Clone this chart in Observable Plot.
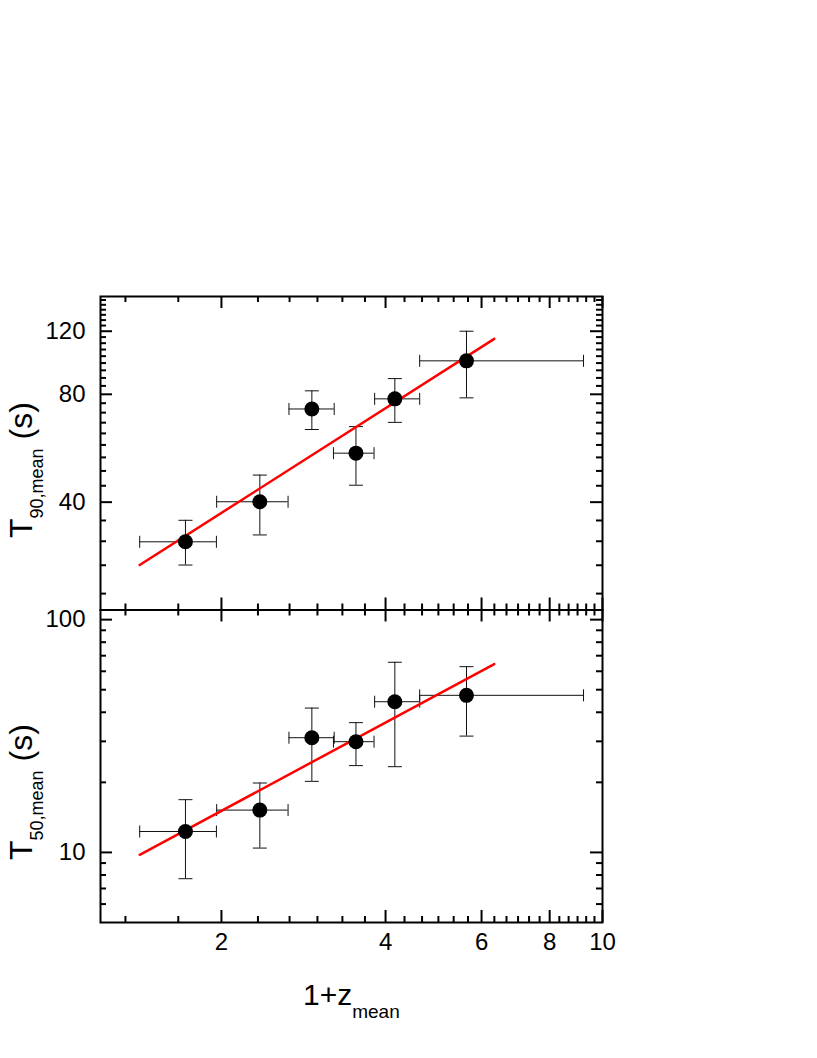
<!DOCTYPE html>
<html><head><meta charset="utf-8">
<script src="https://cdn.jsdelivr.net/npm/d3@7"></script>
<script src="https://cdn.jsdelivr.net/npm/@observablehq/plot@0.6"></script>
<style>
html,body{margin:0;padding:0;background:#fff;}
#wrap{position:relative;width:817px;height:1058px;overflow:hidden;background:#fff;}
#wrap svg{position:absolute;left:0;}
</style></head><body><div id="wrap"></div>
<script>
// ---- data ----
const z     = [1.718, 2.352, 2.93, 3.53, 4.16, 5.63];
const zLo   = [1.416, 1.96, 2.66, 3.21, 3.82, 4.62];
const zHi   = [1.958, 2.65, 3.22, 3.81, 4.62, 9.23];
const t90   = [31.0, 40.1, 72.8, 54.8, 77.7, 99.2];
const t90Lo = [26.7, 32.4, 63.8, 44.6, 66.8, 78.2];
const t90Hi = [35.6, 47.6, 81.8, 65.0, 88.5, 120];
const t50   = [12.3, 15.2, 31.1, 29.9, 44.4, 47.3];
const t50Lo = [7.71, 10.44, 20.2, 23.6, 23.35, 31.6];
const t50Hi = [16.85, 19.87, 41.7, 36.1, 65.6, 62.8];
const fitZ   = [1.416, 6.33];
const fit90  = [26.7, 114.2];
const fit50  = [9.77, 64.4];
// ticks
const xMajor = [2, 4, 6, 8, 10];
const xMinor = d3.range(4, 30).filter(k => k % 6 !== 0).map(k => k / 3);
const y90Major = [40, 80, 120];
const y90Minor = d3.range(5, 34).filter(k => k % 9 !== 0).map(k => k * 40 / 9);
const y50Major = [10, 100];
const y50Minor = [6, 7, 8, 9, 20, 30, 40, 50, 60, 70, 80, 90];

const W = 817, L = 100, R = 215;
const plotW = W - L - R;
const FONT = '"Liberation Sans", Arial, sans-serif';
const MAJ = 12, MIN = 6;
const idx = d3.range(z.length);

const hCap = {draw(ctx, size) { const r = Math.sqrt(size / Math.PI); ctx.moveTo(-r, 0); ctx.lineTo(r, 0); }};
const vCap = {draw(ctx, size) { const r = Math.sqrt(size / Math.PI); ctx.moveTo(0, -r); ctx.lineTo(0, r); }};

function panel({y, yLo, yHi, fit, domain, yMajor, yMinor, offset, height, mTop, mBottom, xLabels}) {
  const H = height - mTop - mBottom;
  const tk = {stroke: "black", strokeWidth: 2};
  const fitData = fitZ.map((v, i) => ({x: v, y: fit[i]}));
  const p = Plot.plot({
    width: W, height,
    marginLeft: L, marginRight: R, marginTop: mTop, marginBottom: mBottom,
    style: {background: "transparent", fontFamily: FONT, fontSize: "24px", color: "black"},
    x: {type: "log", domain: [1.2, 10], axis: xLabels ? "bottom" : null, ticks: xMajor,
        tickSize: 0, tickPadding: 10, tickFormat: d => String(d), label: null},
    y: {type: "log", domain, axis: "left", ticks: yMajor, tickSize: 0, tickPadding: 15,
        tickFormat: d => String(d), label: null},
    marks: [
      // inward ticks
      Plot.ruleY(yMajor, {y: d => d, insetRight: plotW - MAJ, ...tk}),
      Plot.ruleY(yMinor, {y: d => d, insetRight: plotW - MIN, ...tk}),
      Plot.ruleY(yMajor, {y: d => d, insetLeft: plotW - MAJ, ...tk}),
      Plot.ruleY(yMinor, {y: d => d, insetLeft: plotW - MIN, ...tk}),
      Plot.ruleX(xMajor, {x: d => d, insetBottom: H - MAJ, ...tk}),
      Plot.ruleX(xMinor, {x: d => d, insetBottom: H - MIN, ...tk}),
      Plot.ruleX(xMajor, {x: d => d, insetTop: H - MAJ, ...tk}),
      Plot.ruleX(xMinor, {x: d => d, insetTop: H - MIN, ...tk}),
      // error bars
      Plot.ruleX(idx, {x: i => z[i], y1: i => yLo[i], y2: i => yHi[i], stroke: "#111", strokeWidth: 1}),
      Plot.ruleY(idx, {y: i => y[i], x1: i => zLo[i], x2: i => zHi[i], stroke: "#111", strokeWidth: 1}),
      Plot.dot(idx, {x: i => z[i], y: i => yLo[i], symbol: hCap, r: 7, fill: "none", stroke: "#111", strokeWidth: 1}),
      Plot.dot(idx, {x: i => z[i], y: i => yHi[i], symbol: hCap, r: 7, fill: "none", stroke: "#111", strokeWidth: 1}),
      Plot.dot(idx, {x: i => zLo[i], y: i => y[i], symbol: vCap, r: 6, fill: "none", stroke: "#111", strokeWidth: 1}),
      Plot.dot(idx, {x: i => zHi[i], y: i => y[i], symbol: vCap, r: 6, fill: "none", stroke: "#111", strokeWidth: 1}),
      // fit line
      Plot.line(fitData, {x: "x", y: "y", stroke: "#ff0000", strokeWidth: 2.5}),
      // points
      Plot.dot(idx, {x: i => z[i], y: i => y[i], r: 7.5, fill: "black", stroke: "none"}),
      Plot.frame({stroke: "black", strokeWidth: 2})
    ]
  });
  p.style.top = offset + "px";
  document.getElementById("wrap").appendChild(p);
  return d3.select(p);
}

function yTitle(svg, sub, startY) {
  const t = svg.append("text")
    .attr("transform", `translate(31.7,${startY}) rotate(-90)`)
    .attr("text-anchor", "start")
    .attr("font-family", FONT).attr("font-size", 32).attr("fill", "black")
    .style("white-space", "pre");
  t.append("tspan").text("T");
  t.append("tspan").attr("font-size", 18).attr("dy", 11).text(sub);
  t.append("tspan").attr("dy", -11).text(" (s)");
}

const topPanel = panel({y: t90, yLo: t90Lo, yHi: t90Hi, fit: fit90, domain: [20, 150],
  yMajor: y90Major, yMinor: y90Minor, offset: 0, height: 640, mTop: 296, mBottom: 30.5, xLabels: false});
yTitle(topPanel, "90,mean", 538);

const botPanel = panel({y: t50, yLo: t50Lo, yHi: t50Hi, fit: fit50, domain: [5, 110],
  yMajor: y50Major, yMinor: y50Minor, offset: 600, height: 458, mTop: 9.5, mBottom: 136, xLabels: true});
yTitle(botPanel, "50,mean", 860 - 600);

const xt = botPanel.append("text").attr("x", 303).attr("y", 405)
  .attr("text-anchor", "start")
  .attr("font-family", FONT).attr("font-size", 30).attr("fill", "black");
xt.append("tspan").text("1+z");
xt.append("tspan").attr("font-size", 19).attr("dy", 13).text("mean");
</script></body></html>
